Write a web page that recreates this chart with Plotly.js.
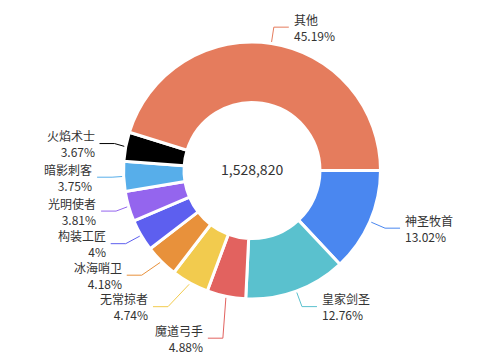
<!DOCTYPE html>
<html><head><meta charset="utf-8">
<script src="https://cdn.plot.ly/plotly-3.0.1.min.js"></script>
<style>html,body{margin:0;padding:0;background:#fff;} #chart{width:502px;height:359px;}</style>
</head><body><div id="chart"></div>
<script>
// ---- data ----
const categories = ['神圣牧首','皇家剑圣','魔道弓手','无常掠者','冰海哨卫','构装工匠','光明使者','暗影刺客','火焰术士','其他'];
const values = [199052, 195077, 74606, 72466, 63905, 61153, 58248, 57331, 56108, 690874];
const colors = ['#4a87f0','#5ac1ce','#e2625f','#f2cb4e','#e8913b','#5d5fef','#9465ee','#57aeea','#000000','#e57c5d'];

// ---- layout constants ----
const W = 502, H = 359, CX = 252, CY = 170.5, R = 128.5, HOLE = 0.529;
const LINE_R = 130, LEN = 15, LEN2 = 15, DIST = 5, LABEL_H = 31.5;
const FONT = '"Noto Sans CJK SC", "Noto Sans", sans-serif';
const TXT = '#333333';

const px = v => v / W;
const py = v => 1 - v / H;

const total = values.reduce((a, b) => a + b, 0);
let cum = 0;
const items = values.map((v, i) => {
  const a0 = cum / total * 2 * Math.PI; cum += v; const a1 = cum / total * 2 * Math.PI;
  const mid = (a0 + a1) / 2;             // clockwise from 3 o'clock (screen coords)
  const dx = Math.cos(mid), dy = Math.sin(mid);
  const x1 = CX + LINE_R * dx, y1 = CY + LINE_R * dy;
  const x2 = x1 + LEN * dx, y2 = y1 + LEN * dy;
  const dir = dx < 0 ? -1 : 1;
  const x3 = x2 + dir * LEN2;
  return { i, x1, y1, y: y2, dir, lx: x3 + dir * DIST, pct: +(v / total * 100).toFixed(2) + '%' };
});

function adjustSide(list) {
  if (list.length < 2) return;
  list.sort((a, b) => a.y - b.y);
  let shifted = false;
  for (let k = 1; k < list.length; k++) {
    const minY = list[k - 1].y + LABEL_H;
    if (list[k].y < minY) { list[k].y = minY; shifted = true; }
  }
  if (!shifted) return;
  const rA = LINE_R + LEN;
  const semis = [{ list: [], maxY: 0, rB: rA }, { list: [], maxY: 0, rB: rA }];
  list.forEach(it => {
    const s = it.y > CY ? semis[1] : semis[0];
    const d = Math.abs(it.y - CY);
    if (d >= s.maxY) {
      const ddx = it.lx - CX - LEN2 * it.dir;
      s.rB = Math.abs(ddx) < rA ? Math.sqrt(d * d / (1 - ddx * ddx / rA / rA)) : rA;
      s.maxY = d;
    }
    s.list.push(it);
  });
  semis.forEach(s => s.list.forEach(it => {
    const d = Math.abs(it.y - CY);
    const ddx = Math.sqrt(Math.max(0, 1 - d * d / (s.rB * s.rB))) * rA;
    it.lx = CX + (ddx + LEN2) * it.dir;
  }));
}
adjustSide(items.filter(it => it.dir < 0));
adjustSide(items.filter(it => it.dir > 0));

const shapes = [], annotations = [];
items.forEach(it => {
  const x3 = it.lx - it.dir * DIST;
  const x2 = x3 - it.dir * LEN2;
  shapes.push({
    type: 'path', xref: 'paper', yref: 'paper', layer: 'above',
    path: `M ${px(it.x1)},${py(it.y1)} L ${px(x2)},${py(it.y)} L ${px(x3)},${py(it.y)}`,
    line: { color: colors[it.i], width: 1 }
  });
  const anchor = it.dir < 0 ? 'right' : 'left';
  annotations.push({
    xref: 'paper', yref: 'paper', x: px(it.lx), y: py(it.y),
    xanchor: anchor, yanchor: 'middle', align: anchor, showarrow: false,
    borderpad: 0, borderwidth: 0, text: categories[it.i] + '<br>' + it.pct,
    font: { family: FONT, size: 12, color: TXT }
  });
});
annotations.push({
  xref: 'paper', yref: 'paper', x: px(CX - 0.5), y: py(169), xanchor: 'center', yanchor: 'middle',
  showarrow: false, text: total.toLocaleString('en-US'),
  font: { family: FONT, size: 14, color: TXT }
});

const trace = {
  type: 'pie', labels: categories, values: values, sort: false, direction: 'clockwise', rotation: 90,
  hole: HOLE, textinfo: 'none', hoverinfo: 'none', showlegend: false,
  marker: { colors: colors, line: { color: '#ffffff', width: 3 } },
  domain: { x: [px(CX - R), px(CX + R)], y: [py(CY + R), py(CY - R)] }
};

Plotly.newPlot('chart', [trace], {
  width: W, height: H, margin: { l: 0, r: 0, t: 0, b: 0 },
  paper_bgcolor: '#ffffff', showlegend: false, shapes, annotations,
  font: { family: FONT }
}, { displayModeBar: false, staticPlot: true });
</script></body></html>
